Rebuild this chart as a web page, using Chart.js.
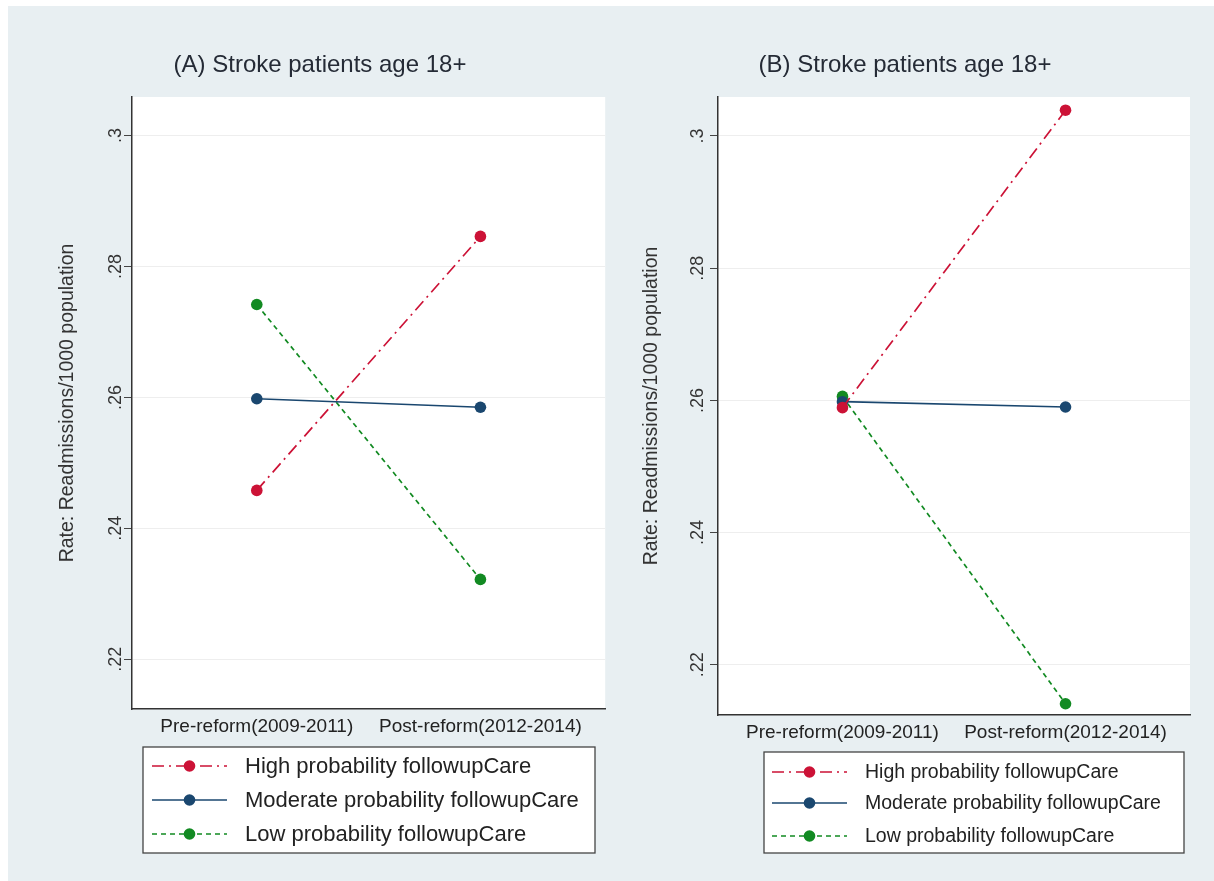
<!DOCTYPE html>
<html>
<head>
<meta charset="utf-8">
<script src="https://cdn.jsdelivr.net/npm/chart.js@4.4.0/dist/chart.umd.min.js"></script>
<style>
  body { margin: 0; background: #ffffff; }
  #bg { position: absolute; left: 8px; top: 6px; width: 1206px; height: 875px; background: #e8eff2; }
  canvas { position: absolute; top: 6px; }
  #panelA { left: 8px; }
  #panelB { left: 611px; }
</style>
</head>
<body>
<div id="bg"></div>
<canvas id="panelA" width="603" height="875"></canvas>
<canvas id="panelB" width="603" height="875"></canvas>
<script>
const categories = ['Pre-reform(2009-2011)', 'Post-reform(2012-2014)'];
const seriesNames = ['High probability followupCare', 'Moderate probability followupCare', 'Low probability followupCare'];

// panel A
const highA = [0.2458, 0.2846];
const moderateA = [0.2598, 0.2585];
const lowA = [0.2742, 0.2322];

// panel B
const highB = [0.2589, 0.3039];
const moderateB = [0.2598, 0.2590];
const lowB = [0.2606, 0.2141];

const yTickValues = [0.22, 0.24, 0.26, 0.28, 0.30];
const yTickLabels = ['.22', '.24', '.26', '.28', '.3'];
const panelTitles = ['(A) Stroke patients age 18+', '(B) Stroke patients age 18+'];
const yTitle = 'Rate: Readmissions/1000 population';

const FONT = '"Liberation Sans", Arial, Helvetica, sans-serif';
Chart.defaults.font.family = FONT;

const colors = ['#cc1236', '#1a476f', '#128a22'];
const dashes = [[12, 5, 2, 5], [], [5, 4]];

// white plot region
const plotBg = {
  id: 'plotBg',
  beforeDraw(chart) {
    const {ctx, chartArea: a} = chart;
    ctx.save();
    ctx.fillStyle = '#ffffff';
    ctx.fillRect(a.left, a.top, a.right - a.left, a.bottom - a.top);
    ctx.restore();
  }
};

// rotated y tick labels like stata
const yLabels = {
  id: 'yLabels',
  afterDraw(chart, args, opts) {
    const {ctx} = chart;
    const y = chart.scales.y;
    ctx.save();
    ctx.font = opts.size + 'px ' + FONT;
    ctx.fillStyle = '#333';
    ctx.textAlign = 'center';
    ctx.textBaseline = 'alphabetic';
    yTickValues.forEach((v, i) => {
      ctx.save();
      ctx.translate(chart.chartArea.left - opts.offset, y.getPixelForValue(v));
      ctx.rotate(-Math.PI / 2);
      ctx.fillText(yTickLabels[i], 0, 0);
      ctx.restore();
    });
    ctx.restore();
  }
};

// boxed legend with line + marker samples
const boxLegend = {
  id: 'boxLegend',
  afterDraw(chart, args, o) {
    const {ctx} = chart;
    ctx.save();
    ctx.fillStyle = '#ffffff';
    ctx.fillRect(o.x, o.y, o.w, o.h);
    ctx.strokeStyle = '#444';
    ctx.lineWidth = 1.3;
    ctx.strokeRect(o.x, o.y, o.w, o.h);
    chart.data.datasets.forEach((ds, i) => {
      const ry = o.rows[i];
      ctx.strokeStyle = ds.borderColor;
      ctx.lineWidth = ds.borderWidth;
      ctx.setLineDash(ds.borderDash);
      ctx.beginPath();
      ctx.moveTo(o.sx0, ry);
      ctx.lineTo(o.sx1, ry);
      ctx.stroke();
      ctx.setLineDash([]);
      ctx.fillStyle = ds.pointBackgroundColor;
      ctx.beginPath();
      ctx.arc((o.sx0 + o.sx1) / 2, ry, ds.pointRadius, 0, Math.PI * 2);
      ctx.fill();
      ctx.fillStyle = '#222';
      ctx.font = o.size + 'px ' + FONT;
      ctx.textBaseline = 'middle';
      ctx.textAlign = 'left';
      ctx.fillText(ds.label, o.tx, ry + 1);
    });
    ctx.restore();
  }
};

function makePanel(id, title, series, lay) {
  const datasets = series.map((vals, i) => ({
    label: seriesNames[i],
    data: vals.map((v, j) => ({x: j, y: v})),
    borderColor: colors[i],
    backgroundColor: colors[i],
    borderWidth: 1.7,
    borderDash: dashes[i],
    pointRadius: 5.8,
    pointHoverRadius: 5.8,
    pointBorderWidth: 0,
    pointBackgroundColor: colors[i],
    tension: 0
  }));

  return new Chart(document.getElementById(id), {
    type: 'line',
    data: {datasets: datasets},
    options: {
      responsive: false,
      animation: false,
      events: [],
      layout: {padding: {left: lay.padLeft, right: lay.padRight, top: 0, bottom: 0}},
      scales: {
        x: {
          type: 'linear',
          min: -0.558,
          max: 1.558,
          afterBuildTicks: s => { s.ticks = categories.map((c, i) => ({value: i})); },
          afterFit: s => { s.height = lay.xHeight; },
          ticks: {
            callback: v => categories[v],
            autoSkip: false,
            maxRotation: 0,
            padding: 6,
            color: '#222',
            font: {size: 19}
          },
          grid: {display: false, drawTicks: false},
          border: {color: '#333', width: 1.5}
        },
        y: {
          type: 'linear',
          min: 0.2124,
          max: 0.3059,
          afterBuildTicks: s => { s.ticks = yTickValues.map(v => ({value: v})); },
          afterFit: s => { s.width = 98; },
          ticks: {display: false},
          grid: {color: '#eeeeee', tickColor: '#444', tickLength: 8, lineWidth: 1},
          border: {color: '#333', width: 1.5},
          title: {
            display: true,
            text: yTitle,
            color: '#333',
            font: {size: 19.5},
            padding: {top: lay.yTitlePad, bottom: 0}
          }
        }
      },
      plugins: {
        legend: {display: false},
        tooltip: {enabled: false},
        title: {
          display: true,
          text: title,
          color: '#252b36',
          font: {size: 24, weight: 'normal'},
          padding: {top: 44.6, bottom: 17.6}
        },
        yLabels: {size: 18, offset: lay.tickOffset},
        boxLegend: lay.legend
      }
    },
    plugins: [plotBg, yLabels, boxLegend]
  });
}

makePanel('panelA', panelTitles[0], [highA, moderateA, lowA], {
  padLeft: 26, padRight: 5, xHeight: 172, yTitlePad: 22, tickOffset: 11,
  legend: {x: 135, y: 741, w: 452, h: 106, rows: [760, 794, 828], sx0: 144, sx1: 219, tx: 237, size: 22}
});

makePanel('panelB', panelTitles[1], [highB, moderateB, lowB], {
  padLeft: 9, padRight: 24, xHeight: 166, yTitlePad: 20.3, tickOffset: 15,
  legend: {x: 153, y: 746, w: 420, h: 101, rows: [766, 797, 830], sx0: 161, sx1: 236, tx: 254, size: 19.5}
});
</script>
</body>
</html>
